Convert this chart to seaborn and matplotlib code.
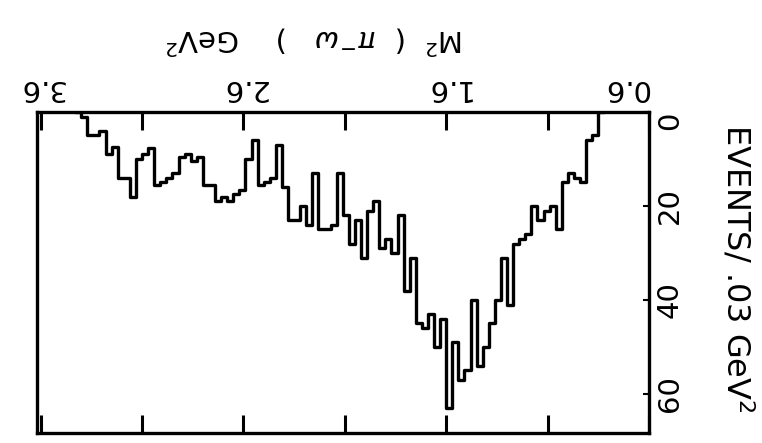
import numpy as np
import pandas as pd
import matplotlib
matplotlib.use("Agg")
import matplotlib.pyplot as plt
import seaborn as sns

# ---- data ----
bin_start = 0.82          # GeV^2, first (empty) bin edge
bin_width = 0.03          # GeV^2
counts = [0,
          5, 6, 15, 14, 13, 15, 25, 20, 21, 23,
          20, 26, 27, 28, 41, 31, 40, 45, 50, 54,
          40, 55, 57, 49, 63, 44, 50, 43, 46, 45,
          31, 38, 22, 30, 27, 29, 19, 21, 31, 23,
          28, 22, 13, 24, 25, 25, 13, 24, 20, 23,
          23, 16, 7, 14, 15, 15.5, 6, 10, 16.5, 17.5,
          19, 18, 19, 15.5, 15.5, 9.5, 10.5, 9, 9.5, 13,
          14, 15, 15.5, 7.7, 9, 10, 18, 14, 14, 7.5,
          9, 4, 5, 5, 1,
          0]
x_tick_values = [0.6, 1.1, 1.6, 2.1, 2.6, 3.1, 3.6]
x_tick_labels = ["0.6", "", "1.6", "", "2.6", "", "3.6"]
y_tick_values = [0, 20, 40, 60]
y_tick_labels = ["0", "20", "40", "60"]
x_title = "M$^2$  (  $\\pi^{-}\\omega$   )    GeV$^2$"
y_title = "EVENTS/ .03 GeV$^2$"

edges = [round(bin_start + bin_width * k, 4) for k in range(len(counts) + 1)]
centers = [(a + b) / 2 for a, b in zip(edges[:-1], edges[1:])]
df = pd.DataFrame({"m2": centers, "n": counts})

sns.set_theme(style="white")
plt.rcParams["font.family"] = ["DejaVu Sans"]
plt.rcParams["mathtext.fontset"] = "dejavusans"

W, H = 762, 443
fig = plt.figure(figsize=(W / 100, H / 100), dpi=100)
L, R, T, B = 37, 649, 112, 433
ax = fig.add_axes([L / W, 1 - B / H, (R - L) / W, (B - T) / H])

sns.histplot(data=df, x="m2", weights="n", bins=edges, element="step",
             fill=False, color="black", linewidth=2.4, ax=ax)

ax.set_xlim(3.618, 0.6)
ax.set_ylim(68.3, 0)

for s in ax.spines.values():
    s.set_color("black")
    s.set_linewidth(2.4)

ax.xaxis.tick_top()
ax.set_xticks(x_tick_values)
ax.set_xticklabels(x_tick_labels, rotation=180, fontsize=21)
ax.get_xticklabels()[0].set_ha("right")
ax.tick_params(axis="x", top=True, bottom=True, labeltop=True, labelbottom=False,
               direction="in", length=13, width=2.2, pad=7, colors="black")

ax.yaxis.tick_right()
ax.set_yticks(y_tick_values)
ax.set_yticklabels(y_tick_labels, rotation=90, fontsize=21, va="center")
ax.get_yticklabels()[0].set_va("top")
ax.tick_params(axis="y", right=True, left=False, labelright=True, labelleft=False,
               direction="in", length=4, width=1.5, pad=5, colors="black")

ax.set_xlabel("")
ax.set_ylabel("")

fig.text(315 / W, 1 - 40 / H, x_title, rotation=180, ha="center", va="center",
         fontsize=21, color="black")
fig.text(737 / W, 1 - 268 / H, y_title, rotation=270, ha="center", va="center",
         fontsize=23, color="black")

fig.savefig("out.png", dpi=100)
